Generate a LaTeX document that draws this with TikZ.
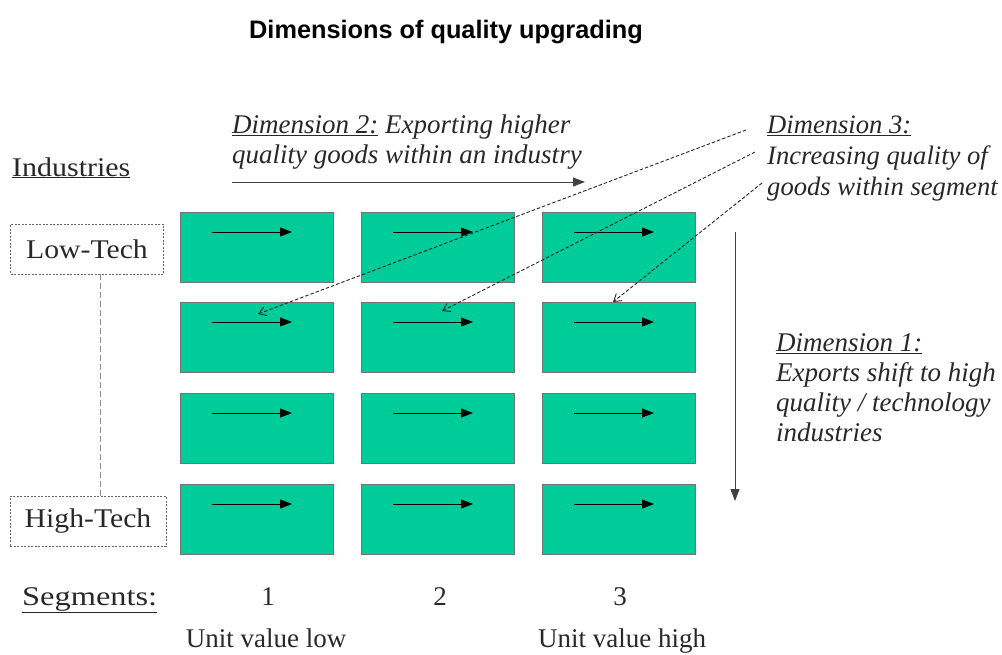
\documentclass[tikz,border=0pt]{standalone}
\usepackage{fontspec}
\setmainfont{Liberation Serif}
\newfontfamily\titlefont{Liberation Sans}
\usetikzlibrary{arrows.meta,calc}
\definecolor{cellgreen}{RGB}{0,204,153}
\definecolor{txt}{RGB}{40,40,40}
\tikzset{
  x=1pt,y=-1pt,
  cell/.style={draw=black!55, line width=0.8pt, fill=cellgreen, minimum width=153pt, minimum height=70pt, anchor=north west, inner sep=0pt},
  inarrow/.style={line width=0.9pt, -{Triangle[length=12pt,width=9pt]}},
  dimarrow/.style={black!75, line width=0.8pt, -{Triangle[length=12pt,width=9pt]}},
  dasharrow/.style={black!85, line width=0.9pt, dash pattern=on 3.5pt off 2pt, -{Straight Barb[length=7pt,width=9pt]}},
  label/.style={font=\fontsize{27}{30}\selectfont, text=txt, inner sep=0pt, anchor=base west},
  ilabel/.style={font=\fontsize{27}{30}\selectfont\itshape, text=txt, inner sep=0pt, anchor=base west, align=left},
  techbox/.style={draw=black!60, line width=0.7pt, dash pattern=on 2pt off 1.5pt, minimum width=153pt, minimum height=50pt, inner sep=0pt, font=\fontsize{27}{30}\selectfont, text=txt},
}
\begin{document}
\begin{tikzpicture}
\useasboundingbox (0,0) rectangle (1002,654);
% title
\node[font=\titlefont\bfseries\fontsize{25.3}{28}\selectfont, anchor=base, inner sep=0pt] (title) at (446,38) {Dimensions of quality upgrading};
% grid of cells
\foreach \c/\x in {1/180,2/361,3/542}{
  \foreach \r/\y in {1/212,2/302,3/393,4/484}{
    \node[cell] (b\r\c) at (\x,\y) {};
    \draw[inarrow] ($(b\r\c.north west)+(32,20)$) coordinate (s\r\c) -- ($(b\r\c.north west)+(112,20)$) coordinate (e\r\c);
  }
}
% left labels
\node[label] (ind) at (12,176) {\scalebox{1.11}[1]{\underline{Industries}}};
\node[techbox] (low) at (87,249) {\scalebox{1.1}[1]{Low-Tech}};
\node[techbox, minimum width=156pt] (high) at (88,521) {\scalebox{1.1}[1]{High-Tech}};
\draw[black!45, line width=0.6pt, dash pattern=on 6pt off 3pt] ($(low.south)+(13,0)$) coordinate (vl1) -- ($(high.north)+(12,0)$) coordinate (vl2);
% dimension 2
\node[ilabel] (d2) at (232,163) {\underline{Dimension 2:} Exporting higher\\quality goods within an industry};
\coordinate (d2s) at (232,182);
\coordinate (d2e) at (585,182);
\draw[dimarrow] (d2s) -- (d2e);
% dimension 3
\node[ilabel, font=\fontsize{26.6}{31}\selectfont\itshape] (d3) at (767,195) {\underline{Dimension 3:}\\Increasing quality of\\goods within segment};
\coordinate (t1) at (746,130);
\coordinate (t2) at (755,152);
\coordinate (t3) at (762,183);
\coordinate (h1) at (258,314);
\coordinate (h2) at (442,311);
\coordinate (h3) at (613,302);
\draw[dasharrow] (t1) -- (h1);
\draw[dasharrow] (t2) -- (h2);
\draw[dasharrow] (t3) -- (h3);
% dimension 1
\coordinate (d1s) at (735,232);
\coordinate (d1e) at (735,501);
\draw[dimarrow] (d1s) -- (d1e);
\node[ilabel, font=\fontsize{27}{29.7}\selectfont\itshape] (d1) at (776,441) {\underline{Dimension 1:}\\Exports shift to high\\quality / technology\\industries};
% segments
\node[label] (seg) at (22,605) {\scalebox{1.2}[1]{\underline{Segments:}}};
\node[label, anchor=base] (n1) at (268,605) {1};
\node[label, anchor=base] (n2) at (440,605) {2};
\node[label, anchor=base] (n3) at (620,605) {3};
\node[label, anchor=base] (uvl) at (266,647) {Unit value low};
\node[label, anchor=base] (uvh) at (622,647) {Unit value high};
\end{tikzpicture}
\end{document}
